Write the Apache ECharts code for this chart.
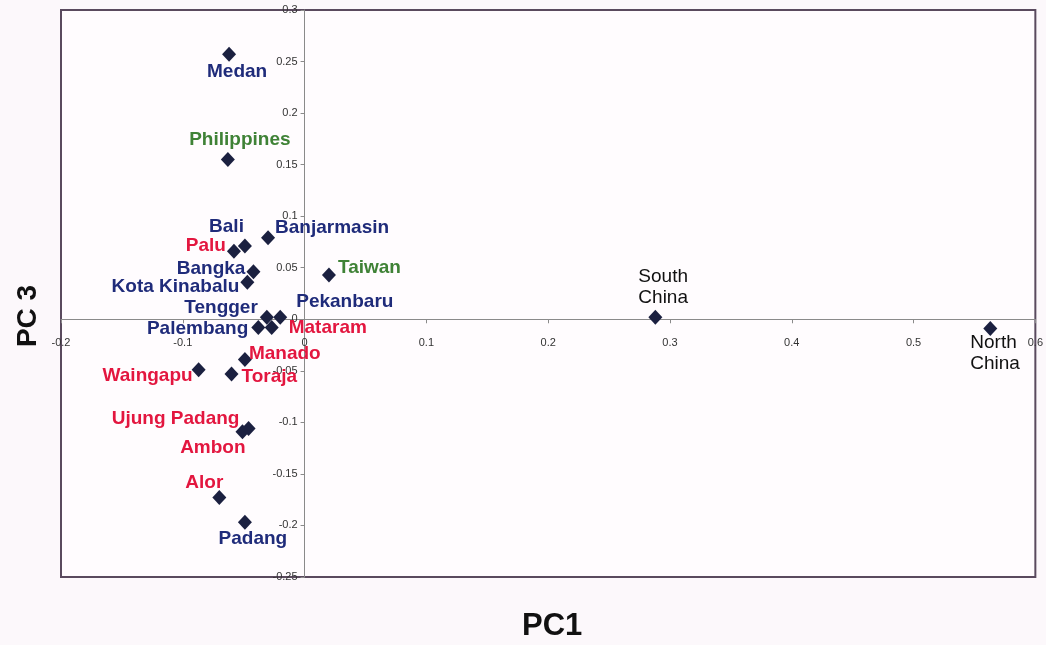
<!DOCTYPE html>
<html>
<head>
<meta charset="utf-8">
<script src="https://cdn.jsdelivr.net/npm/echarts@6/dist/echarts.min.js"></script>
<style>
  html, body { margin: 0; padding: 0; background: #fcf8fb; }
  #chart { width: 1046px; height: 645px; }
</style>
</head>
<body>
<div id="chart"></div>
<script>
// Population names, principal component scores and colour groups
const populations = [
  'Medan', 'Philippines', 'Banjarmasin', 'Bali', 'Palu', 'Bangka', 'Kota Kinabalu',
  'Taiwan', 'Pekanbaru', 'Tengger', 'Mataram', 'Palembang', 'Manado', 'Waingapu',
  'Toraja', 'Ujung Padang', 'Ambon', 'Alor', 'Padang', 'South\nChina', 'North\nChina'
];
const pc1 = [
  -0.062, -0.063, -0.030, -0.049, -0.058, -0.042, -0.047,
  0.020, -0.020, -0.031, -0.027, -0.038, -0.049, -0.087,
  -0.060, -0.051, -0.046, -0.070, -0.049, 0.288, 0.563
];
const pc3 = [
  0.257, 0.155, 0.079, 0.071, 0.066, 0.046, 0.036,
  0.043, 0.002, 0.002, -0.008, -0.008, -0.039, -0.049,
  -0.053, -0.109, -0.106, -0.173, -0.197, 0.002, -0.009
];
const groups = [
  'west', 'north', 'west', 'west', 'east', 'west', 'west',
  'north', 'west', 'west', 'east', 'west', 'east', 'east',
  'east', 'east', 'east', 'east', 'west', 'china', 'china'
];
const xTicks = { min: -0.2, max: 0.6, step: 0.1 };
const yTicks = { min: -0.25, max: 0.3, step: 0.05 };

// Text styling by group
const groupColor = { west: '#1f2b7a', east: '#e3163f', north: '#3f8236', china: '#111111' };

// Label placement around each marker: [align, dx, dy]
const labelPlace = {
  'Medan': ['center', 8, 17],
  'Philippines': ['center', 12, -20],
  'Banjarmasin': ['left', 7, -10],
  'Bali': ['right', -1, -19],
  'Palu': ['right', -8, -5],
  'Bangka': ['right', -8, -3],
  'Kota Kinabalu': ['right', -8, 5],
  'Taiwan': ['left', 9, -7],
  'Pekanbaru': ['left', 16, -15],
  'Tengger': ['right', -9, -9],
  'Mataram': ['left', 17, 0],
  'Palembang': ['right', -10, 1],
  'Manado': ['left', 4, -6],
  'Waingapu': ['right', -6, 6],
  'Toraja': ['left', 10, 3],
  'Ujung Padang': ['right', -3, -13],
  'Ambon': ['right', -3, 19],
  'Alor': ['right', 4, -15],
  'Padang': ['center', 8, 16],
  'South\nChina': ['left', -17, -30],
  'North\nChina': ['left', -20, 25]
};

const points = populations.map((name, i) => {
  const p = labelPlace[name];
  const isChina = groups[i] === 'china';
  return {
    name: name,
    value: [pc1[i], pc3[i]],
    label: {
      show: true,
      position: 'inside',
      align: p[0],
      verticalAlign: 'middle',
      offset: [p[1], p[2]],
      formatter: '{b}',
      color: groupColor[groups[i]],
      opacity: 1,
      fontFamily: 'Liberation Sans, Arial, sans-serif',
      fontWeight: isChina ? 'normal' : 'bold',
      fontSize: 19,
      lineHeight: 21
    }
  };
});

function fmt(v) {
  return String(Math.round(v * 100) / 100);
}

const tickFont = {
  fontFamily: 'Liberation Sans Narrow, Liberation Sans, Arial, sans-serif',
  fontSize: 11,
  color: '#333'
};

const GRID = { left: 61, top: 10, right: 10, bottom: 68 };

const chart = echarts.init(document.getElementById('chart'), null, { renderer: 'canvas' });
chart.setOption({
  backgroundColor: '#fcf8fb',
  animation: false,
  grid: Object.assign({
    show: true,
    backgroundColor: '#fffcfe',
    borderColor: '#5a4a5e',
    borderWidth: 2
  }, GRID),
  xAxis: {
    type: 'value',
    position: 'bottom',
    min: xTicks.min, max: xTicks.max, interval: xTicks.step,
    splitLine: { show: false },
    axisLine: { show: true, onZero: false, lineStyle: { color: '#8a8a8a', width: 1 } },
    axisTick: { show: true, inside: false, length: 4, lineStyle: { color: '#8a8a8a' } },
    axisLabel: Object.assign({ margin: 18, formatter: fmt, showMinLabel: true, showMaxLabel: true }, tickFont)
  },
  yAxis: {
    type: 'value',
    position: 'left',
    min: yTicks.min, max: yTicks.max, interval: yTicks.step,
    splitLine: { show: false },
    axisLine: { show: true, onZero: false, lineStyle: { color: '#8a8a8a', width: 1 } },
    axisTick: { show: true, inside: false, length: 4, lineStyle: { color: '#8a8a8a' } },
    axisLabel: Object.assign({ margin: 7, formatter: fmt, showMinLabel: true, showMaxLabel: true }, tickFont)
  },
  series: [{
    type: 'scatter',
    symbol: 'diamond',
    symbolSize: [14, 15],
    itemStyle: { color: '#1b2040', opacity: 1 },
    emphasis: { disabled: true },
    data: points
  }]
});

// Move both axes so they cross at the origin
const origin = chart.convertToPixel({ gridIndex: 0 }, [0, 0]);
const plotBottom = 645 - GRID.bottom;
chart.setOption({
  xAxis: { offset: origin[1] - plotBottom },
  yAxis: { offset: GRID.left - origin[0] },
  graphic: [
    {
      type: 'text',
      left: 522, top: 611,
      style: {
        text: 'PC1',
        font: 'bold 31px "Liberation Sans Narrow", "Liberation Sans", Arial, sans-serif',
        fill: '#111'
      }
    },
    {
      type: 'text',
      x: 28, y: 316,
      rotation: Math.PI / 2,
      style: {
        text: 'PC 3',
        font: 'bold 28px "Liberation Sans", Arial, sans-serif',
        fill: '#111',
        align: 'center',
        verticalAlign: 'middle'
      }
    }
  ]
});
</script>
</body>
</html>
